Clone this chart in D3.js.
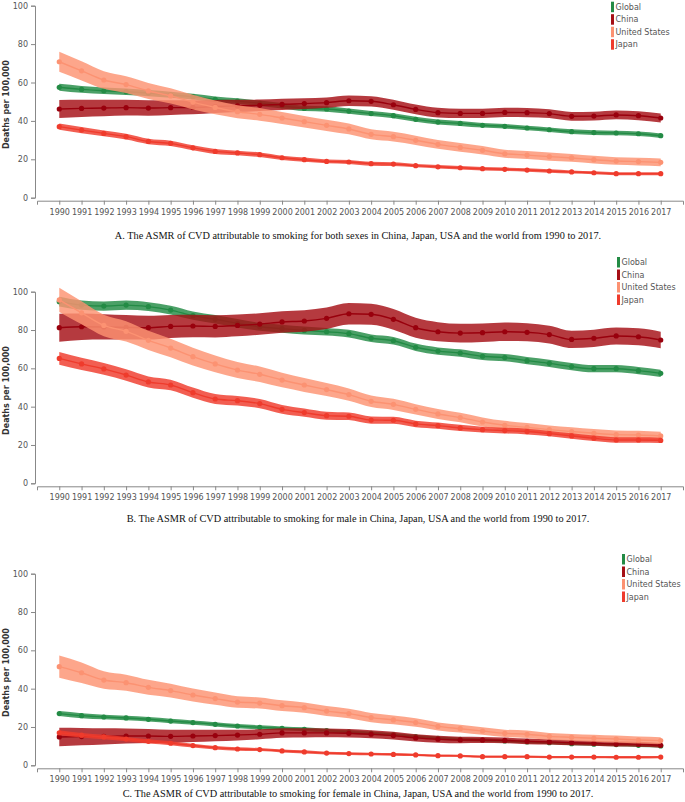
<!DOCTYPE html>
<html><head><meta charset="utf-8">
<script src="https://cdn.jsdelivr.net/npm/d3@7"></script>
<style>
body{margin:0;background:#fff;}
svg{display:block;}
</style></head>
<body>
<svg id="chart" width="685" height="802"></svg>
<script>
const years = d3.range(1990, 2018);
const seriesNames = ["Global", "China", "United States", "Japan"];
const lineColors = ["#238b45", "#99000d", "#fc9272", "#ef3b2c"];
const bandColors = ["#238b45", "#a50f15", "#fc9272", "#ef3b2c"];
const yTicks = [0, 20, 40, 60, 80, 100];
const captions = [
  "A. The ASMR of CVD attributable to smoking for both sexes in China, Japan, USA and the world from 1990 to 2017.",
  "B. The ASMR of CVD attributable to smoking for male in China, Japan, USA and the world from 1990 to 2017.",
  "C. The ASMR of CVD attributable to smoking for female in China, Japan, USA and the world from 1990 to 2017."
];

// Panel A: both sexes
const globalBoth = [57.5,56.4,55.7,55.2,54.5,53.6,52.6,51.2,50.3,49.2,47.9,46.5,46.2,45.1,43.8,42.7,40.8,39.4,38.7,37.7,37.2,36.3,35.4,34.4,33.9,33.7,33.3,32.3];
const globalBothHW = [1.8,1.8,1.7,1.7,1.6,1.6,1.5,1.5,1.5,1.4,1.4,1.4,1.4,1.4,1.3,1.3,1.3,1.3,1.3,1.2,1.2,1.2,1.2,1.2,1.2,1.2,1.2,1.2];
const chinaBoth = [46.2,46.5,46.7,46.9,46.7,46.9,47.0,47.5,47.8,48.1,48.6,49.0,49.5,50.5,50.2,48.4,46.0,44.3,43.9,43.9,44.4,44.3,43.8,42.4,42.5,43.1,42.7,41.5];
const chinaBothHW = [4.7,4.5,4.3,4.1,4.0,3.8,3.6,3.4,3.2,3.0,2.9,2.8,2.7,2.7,2.7,2.6,2.5,2.5,2.4,2.4,2.4,2.4,2.3,2.3,2.3,2.3,2.3,2.3];
const usBoth = [70.8,66.1,61.3,58.9,55.6,53.0,49.8,47.0,44.8,43.4,41.5,39.6,37.7,35.8,33.0,31.8,29.9,27.8,26.2,24.7,22.9,22.2,21.4,20.7,19.8,19.1,18.8,18.4];
const usBothHW = [5.2,5.0,4.6,4.4,4.2,4.0,3.8,3.6,3.4,3.3,3.1,3.0,2.9,2.8,2.6,2.5,2.4,2.3,2.3,2.2,2.1,2.1,2.1,2.0,2.0,2.0,2.0,2.0];
const japanBoth = [37.0,35.2,33.5,31.8,29.3,28.3,26.0,24.1,23.3,22.4,20.8,19.8,18.9,18.6,17.7,17.5,16.7,16.1,15.6,15.1,14.8,14.4,13.9,13.4,13.0,12.5,12.5,12.5];
const japanBothHW = [1.6,1.6,1.5,1.5,1.4,1.4,1.3,1.3,1.2,1.2,1.1,1.1,1.0,1.0,1.0,1.0,0.9,0.9,0.9,0.9,0.9,0.9,0.9,0.8,0.8,0.8,0.8,0.8];

// Panel B: male
const globalMale = [94.8,93.0,92.5,93.0,92.2,90.4,87.5,85.6,83.5,81.7,80.7,79.8,79.1,78.1,75.7,74.4,71.0,69.0,68.0,66.3,65.6,64.0,62.6,60.9,59.8,59.8,58.8,57.4];
const globalMaleHW = [2.5,2.4,2.4,2.4,2.3,2.3,2.2,2.2,2.2,2.1,2.1,2.1,2.0,2.0,2.0,2.0,1.9,1.9,1.9,1.9,1.9,1.9,1.9,1.9,1.9,1.9,1.9,1.9];
const chinaMale = [81.2,81.7,81.6,81.4,81.2,81.9,82.1,81.9,82.4,83.1,84.2,84.7,86.1,88.5,88.2,85.6,81.2,79.1,78.4,78.6,79.1,78.8,77.6,75.1,75.7,76.9,76.5,74.8];
const chinaMaleHW = [7.3,6.9,6.6,6.4,6.2,6.0,5.9,5.8,5.7,5.6,5.6,5.6,5.6,5.6,5.5,5.4,5.2,5.0,4.9,4.8,4.8,4.7,4.6,4.5,4.5,4.4,4.4,4.3];
const usMale = [95.7,89.0,82.4,79.3,74.6,70.6,66.1,62.3,59.1,56.9,53.9,51.3,48.9,46.3,42.8,41.2,38.6,36.2,34.3,32.0,30.3,29.2,28.0,27.0,26.1,25.4,25.2,24.7];
const usMaleHW = [6.3,6.0,5.6,5.3,5.0,4.8,4.6,4.4,4.2,4.0,3.8,3.6,3.4,3.2,3.0,2.9,2.7,2.6,2.5,2.4,2.3,2.3,2.2,2.2,2.2,2.2,2.2,2.2];
const japanMale = [65.2,62.3,59.7,56.5,52.9,51.3,47.3,44.0,43.1,41.6,38.6,36.9,35.3,35.0,33.0,32.9,31.0,30.1,28.9,28.0,27.5,27.0,25.9,24.7,23.5,22.6,22.6,22.4];
const japanMaleHW = [3.3,3.2,3.1,3.0,2.9,2.8,2.7,2.6,2.5,2.4,2.3,2.2,2.1,2.0,1.9,1.8,1.7,1.6,1.6,1.5,1.5,1.5,1.4,1.4,1.4,1.4,1.4,1.4];

// Panel C: female
const globalFemale = [27.0,25.9,25.2,24.7,24.0,23.1,22.3,21.4,20.5,19.8,19.3,18.8,18.1,17.4,16.7,16.0,15.0,14.1,13.6,13.2,12.7,12.2,11.8,11.3,11.0,10.8,10.4,10.1];
const globalFemaleHW = [1.3,1.3,1.2,1.2,1.2,1.2,1.1,1.1,1.1,1.1,1.0,1.0,1.0,1.0,1.0,0.9,0.9,0.9,0.9,0.9,0.9,0.8,0.8,0.8,0.8,0.8,0.8,0.8];
const chinaFemale = [14.8,15.0,15.1,15.3,15.3,15.1,15.3,15.5,15.8,16.2,16.9,16.9,16.9,16.7,16.2,15.5,14.3,13.6,13.2,13.2,13.0,12.5,12.2,11.8,11.5,11.1,11.0,10.4];
const chinaFemaleHW = [4.8,4.5,4.2,3.9,3.6,3.4,3.2,3.0,2.8,2.6,2.5,2.4,2.3,2.2,2.1,2.0,1.9,1.8,1.7,1.6,1.5,1.5,1.4,1.4,1.3,1.3,1.3,1.2];
const usFemale = [51.5,48.3,44.5,43.1,40.7,39.0,36.7,34.8,33.0,32.5,31.1,30.1,28.3,27.0,24.9,23.7,22.3,20.3,19.1,17.9,16.7,16.2,15.1,14.6,14.1,13.7,13.2,12.9];
const usFemaleHW = [5.8,5.4,4.6,4.2,3.9,3.6,3.4,3.2,3.0,2.9,2.8,2.7,2.6,2.5,2.4,2.3,2.2,2.1,2.0,2.0,1.9,1.9,1.8,1.8,1.8,1.8,1.8,1.8];
const japanFemale = [17.0,15.7,14.8,13.7,12.5,11.5,10.3,9.2,8.5,8.2,7.5,7.0,6.4,6.1,5.9,5.7,5.4,5.0,4.9,4.5,4.5,4.5,4.3,4.3,4.3,4.2,4.2,4.3];
const japanFemaleHW = [1.3,1.2,1.2,1.1,1.1,1.0,1.0,0.9,0.9,0.8,0.8,0.8,0.7,0.7,0.7,0.7,0.6,0.6,0.6,0.6,0.6,0.6,0.6,0.6,0.6,0.6,0.6,0.6];

const panels = [
  {vals:[globalBoth, chinaBoth, usBoth, japanBoth], hw:[globalBothHW, chinaBothHW, usBothHW, japanBothHW],
   y100:5.7, y0:197.7, legX:611, legY:6.7, capY:238.5},
  {vals:[globalMale, chinaMale, usMale, japanMale], hw:[globalMaleHW, chinaMaleHW, usMaleHW, japanMaleHW],
   y100:291.7, y0:483.3, legX:617, legY:262, capY:521.5},
  {vals:[globalFemale, chinaFemale, usFemale, japanFemale], hw:[globalFemaleHW, chinaFemaleHW, usFemaleHW, japanFemaleHW],
   y100:573.7, y0:765.3, legX:622, legY:559, capY:797}
];

const svg = d3.select("#chart");
const x = d3.scalePoint().domain(years).range([37, 683]).padding(1);
const axisColor = "#888";
const tickText = "#555";

panels.forEach((p, pi) => {
  const g = svg.append("g");
  const y = d3.scaleLinear().domain([0, 100]).range([p.y0, p.y100]);

  p.vals.forEach((vals, si) => {
    const data = years.map((yr, i) => ({yr, v: vals[i], lo: vals[i] - p.hw[si][i], hi: vals[i] + p.hw[si][i]}));
    const area = d3.area().curve(d3.curveMonotoneX)
      .x(d => x(d.yr)).y0(d => y(d.lo)).y1(d => y(d.hi));
    const line = d3.line().curve(d3.curveMonotoneX)
      .x(d => x(d.yr)).y(d => y(d.v));
    g.append("path").datum(data).attr("d", area)
      .attr("fill", bandColors[si]).attr("fill-opacity", 0.82);
    g.append("path").datum(data).attr("d", line)
      .attr("fill", "none").attr("stroke", lineColors[si]).attr("stroke-width", 1.4);
    g.selectAll(null).data(data).enter().append("circle")
      .attr("cx", d => x(d.yr)).attr("cy", d => y(d.v)).attr("r", 2.6)
      .attr("fill", lineColors[si]);
  });

  const ya = g.append("g").attr("transform", "translate(35,0)")
    .call(d3.axisLeft(y).tickValues(yTicks).tickSize(4).tickSizeOuter(4));
  const xa = g.append("g").attr("transform", `translate(0,${p.y0 + 3})`)
    .call(d3.axisBottom(x).tickSize(4).tickSizeOuter(4));
  [ya, xa].forEach(a => {
    a.selectAll("path,line").attr("stroke", axisColor);
    a.selectAll("text").attr("fill", tickText)
      .style("font-family", "'DejaVu Sans', sans-serif").style("font-size", "8px");
  });
  xa.selectAll("text").attr("dy", "0.9em");

  g.append("text")
    .attr("transform", `translate(8.5,${(p.y0 + p.y100) / 2 + 3}) rotate(-90)`)
    .attr("text-anchor", "middle")
    .style("font-family", "'DejaVu Sans', sans-serif").style("font-size", "8px")
    .style("font-weight", "bold").attr("fill", "#333")
    .text("Deaths per 100,000");

  seriesNames.forEach((name, si) => {
    const cy = p.legY + si * 12.5;
    g.append("rect").attr("x", p.legX).attr("y", cy - 5).attr("width", 3).attr("height", 10.5)
      .attr("fill", bandColors[si]);
    g.append("text").attr("x", p.legX + 4.5).attr("y", cy + 3)
      .style("font-family", "'DejaVu Sans', sans-serif").style("font-size", "8px")
      .attr("fill", "#555").text(name);
  });

  svg.append("text").attr("x", 358).attr("y", p.capY).attr("text-anchor", "middle")
    .style("font-family", "'Liberation Serif', 'Times New Roman', serif").style("font-size", "10.3px")
    .attr("fill", "#111").text(captions[pi]);
});
</script>
</body></html>
